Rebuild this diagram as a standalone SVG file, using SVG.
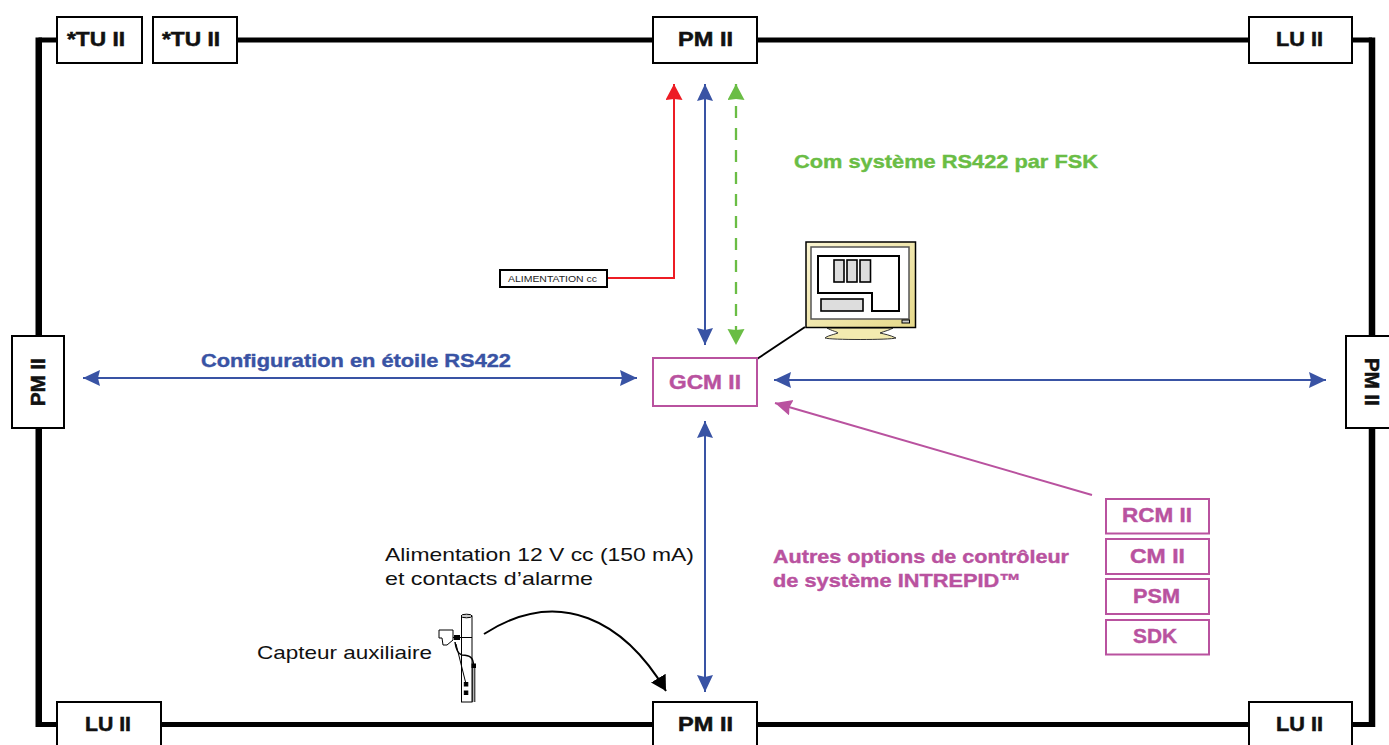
<svg xmlns="http://www.w3.org/2000/svg" width="1389" height="745" viewBox="0 0 1389 745">
<style>
text{font-family:"Liberation Sans",Arial,sans-serif}
.n{fill:#fff;stroke:#000;stroke-width:2}
.l{font-weight:700;font-size:19.500px;fill:#111;stroke:#111;stroke-width:.5}
.p{fill:#fff;stroke:#b9529f;stroke-width:2}
.pl{font-weight:700;font-size:19.500px;fill:#b9529f;stroke:#b9529f;stroke-width:.4}
.bl{fill:none;stroke:#3953a4;stroke-width:2}
.sc{fill:#ddd;stroke:#000;stroke-width:1.600}
.t{font-weight:700;font-size:19px;stroke-width:.4}
.r{font-size:19px;fill:#111}
.fh{fill:none;stroke:#000;stroke-width:5}
.fv{fill:none;stroke:#000;stroke-width:6.500}
</style>
<defs>
<marker id="ab" markerUnits="userSpaceOnUse" markerWidth="20" markerHeight="18" refX="17" refY="8" orient="auto-start-reverse"><path d="M0 0L17 8L0 16L2 8Z" fill="#3953a4"/></marker>
<marker id="ar" markerUnits="userSpaceOnUse" markerWidth="20" markerHeight="20" refX="16" refY="8.500" orient="auto"><path d="M0 0L16 8.500L0 17L1 8.500Z" fill="#ed1c24"/></marker>
<marker id="ag" markerUnits="userSpaceOnUse" markerWidth="20" markerHeight="20" refX="16" refY="8.500" orient="auto-start-reverse"><path d="M0 0L16 8.500L0 17L1 8.500Z" fill="#6abd45"/></marker>
<marker id="ap" markerUnits="userSpaceOnUse" markerWidth="20" markerHeight="18" refX="17" refY="8" orient="auto"><path d="M0 0L17 8L0 16L2 8Z" fill="#b9529f"/></marker>
<marker id="ak" markerUnits="userSpaceOnUse" markerWidth="20" markerHeight="20" refX="15" refY="8.500" orient="auto"><path d="M0 0L15 8.500L0 17Z" fill="#000"/></marker>
<linearGradient id="mon" x1="0" y1="0" x2="1" y2="1"><stop offset="0" stop-color="#fbf5d2"/><stop offset="1" stop-color="#e6d98a"/></linearGradient>
</defs>
<g id="connectors">
<path class="fh" d="M57 40H38.500"/>
<path class="fh" d="M237 40H653M757 40H1249M1352 40H1372"/>
<path class="fh" d="M57 724.500H38.500M161 724.500H653M757 724.500H1249M1352 724.500H1372"/>
<path class="fv" d="M38.750 37.500V727M1372 37.500V727" stroke-linejoin="round"/>
<path d="M607 278H674V84" fill="none" stroke="#ed1c24" stroke-width="2" marker-end="url(#ar)"/>
<path d="M705 84V345" class="bl" marker-start="url(#ab)" marker-end="url(#ab)"/>
<path d="M736 84V345" fill="none" stroke="#6abd45" stroke-width="2.300" stroke-dasharray="12 10" marker-start="url(#ag)" marker-end="url(#ag)"/>
<path d="M83 378H637" class="bl" marker-start="url(#ab)" marker-end="url(#ab)"/>
<path d="M774 380H1326" class="bl" marker-start="url(#ab)" marker-end="url(#ab)"/>
<path d="M705 421V692" class="bl" marker-start="url(#ab)" marker-end="url(#ab)"/>
<path d="M1092 495L775 403" fill="none" stroke="#b9529f" stroke-width="2" marker-end="url(#ap)"/>
<path d="M757 359L805 327" fill="none" stroke="#000" stroke-width="2"/>
<path d="M484 634C560 585 625 622 666 691" fill="none" stroke="#000" stroke-width="2" marker-end="url(#ak)"/>
</g>
<g id="tu1"><rect class="n" x="57" y="17" width="85" height="46"/><text class="l" x="67" y="46" textLength="58" lengthAdjust="spacingAndGlyphs">*TU II</text></g>
<g id="tu2"><rect class="n" x="153" y="17" width="84" height="46"/><text class="l" x="162" y="46" textLength="58" lengthAdjust="spacingAndGlyphs">*TU II</text></g>
<g id="pm-top"><rect class="n" x="653" y="17" width="104" height="46"/><text class="l" x="678" y="46" textLength="55" lengthAdjust="spacingAndGlyphs">PM II</text></g>
<g id="lu-tr"><rect class="n" x="1249" y="17" width="103" height="46"/><text class="l" x="1276" y="46" textLength="47" lengthAdjust="spacingAndGlyphs">LU II</text></g>
<g id="pm-left"><rect class="n" x="12" y="336" width="52" height="92"/><text class="l" transform="translate(45 406) rotate(-90)" textLength="48" lengthAdjust="spacingAndGlyphs">PM II</text></g>
<g id="pm-right"><rect class="n" x="1346" y="336" width="52" height="92"/><text class="l" transform="translate(1365 358) rotate(90)" textLength="48" lengthAdjust="spacingAndGlyphs">PM II</text></g>
<g id="lu-bl"><rect class="n" x="57" y="702" width="104" height="50"/><text class="l" x="85" y="731" textLength="46" lengthAdjust="spacingAndGlyphs">LU II</text></g>
<g id="pm-bottom"><rect class="n" x="653" y="702" width="104" height="50"/><text class="l" x="678" y="731" textLength="55" lengthAdjust="spacingAndGlyphs">PM II</text></g>
<g id="lu-br"><rect class="n" x="1249" y="702" width="103" height="50"/><text class="l" x="1276" y="731" textLength="47" lengthAdjust="spacingAndGlyphs">LU II</text></g>
<g id="gcm"><rect class="p" x="653" y="358" width="104" height="48"/><text class="pl" x="669" y="389" textLength="72" lengthAdjust="spacingAndGlyphs">GCM II</text></g>
<g id="rcm"><rect class="p" x="1106" y="499" width="103" height="34.500"/><text class="pl" x="1122" y="522" textLength="70" lengthAdjust="spacingAndGlyphs">RCM II</text></g>
<g id="cm"><rect class="p" x="1106" y="539" width="103" height="35"/><text class="pl" x="1130" y="563" textLength="55" lengthAdjust="spacingAndGlyphs">CM II</text></g>
<g id="psm"><rect class="p" x="1106" y="579" width="103" height="35"/><text class="pl" x="1133" y="603" textLength="47" lengthAdjust="spacingAndGlyphs">PSM</text></g>
<g id="sdk"><rect class="p" x="1106" y="620" width="103" height="34.500"/><text class="pl" x="1133" y="643" textLength="44" lengthAdjust="spacingAndGlyphs">SDK</text></g>
<g id="alim"><rect x="500" y="270" width="107" height="17" fill="#fff" stroke="#000" stroke-width="2"/><text x="508" y="282" textLength="89" lengthAdjust="spacingAndGlyphs" style="font-size:9.500px" fill="#222">ALIMENTATION cc</text></g>
<g id="monitor">
<path d="M827 328C832 331 838 332 838 333C832 335 827 336 825 338C830 340 890 340 896 338C890 335 884 334 880 333C885 331 890 330 893 328Z" fill="#f3ebb0" stroke="#333" stroke-width="1"/>
<rect x="806" y="242" width="109.500" height="85.500" fill="url(#mon)" stroke="#000" stroke-width="1.500"/>
<rect x="811" y="247" width="98" height="72" fill="#fff" stroke="#555" stroke-width="1.500"/>
<path d="M818 256H899V311H872V293H818Z" fill="none" stroke="#000" stroke-width="2"/>
<rect class="sc" x="834" y="260" width="10" height="22"/><rect class="sc" x="847" y="260" width="10" height="22"/><rect class="sc" x="860" y="260" width="10.500" height="22"/>
<rect class="sc" x="821" y="299" width="42" height="12"/>
<rect x="902" y="320" width="7.500" height="3" fill="#ccc" stroke="#000"/>
</g>
<g id="sensor" fill="none" stroke="#000">
<rect x="461.500" y="616" width="10.500" height="86" fill="#fff"/>
<ellipse cx="466.500" cy="616" rx="5.500" ry="1.800" fill="#ccc"/>
<path d="M472.800 665V702M474.800 665V702"/>
<path d="M439 630H453V640L447 645H443L442 638H439Z" fill="#fff"/>
<path d="M453 637.500H472" stroke-width="1"/>
<path d="M454 635H460V640H454Z" fill="#000" stroke="none"/>
<path d="M455 642C456 650 458 654 462 655C470 655.500 473.500 657 473.500 666" stroke-width="1.500"/>
<path d="M456 644L466 684" stroke-width="1"/>
<rect x="464.300" y="682.500" width="3.500" height="3.500" fill="#000"/><rect x="464.300" y="691" width="3.500" height="3.500" fill="#000"/><rect x="472" y="664" width="3.500" height="3.500" fill="#000"/>
</g>
<g id="labels">
<text class="t" x="201" y="367" textLength="310" lengthAdjust="spacingAndGlyphs" fill="#3953a4" stroke="#3953a4">Configuration en étoile RS422</text>
<text class="t" x="794" y="168" textLength="304" lengthAdjust="spacingAndGlyphs" fill="#6abd45" stroke="#6abd45">Com système RS422 par FSK</text>
<text class="t" x="773" y="563" textLength="296" lengthAdjust="spacingAndGlyphs" fill="#b9529f" stroke="#b9529f">Autres options de contrôleur</text>
<text class="t" x="773" y="587" textLength="248" lengthAdjust="spacingAndGlyphs" fill="#b9529f" stroke="#b9529f">de système INTREPID™</text>
<text class="r" x="385" y="561" textLength="309" lengthAdjust="spacingAndGlyphs">Alimentation 12 V cc (150 mA)</text>
<text class="r" x="385" y="585" textLength="208" lengthAdjust="spacingAndGlyphs">et contacts d’alarme</text>
<text class="r" x="257" y="659" textLength="175" lengthAdjust="spacingAndGlyphs">Capteur auxiliaire</text>
</g>
</svg>
